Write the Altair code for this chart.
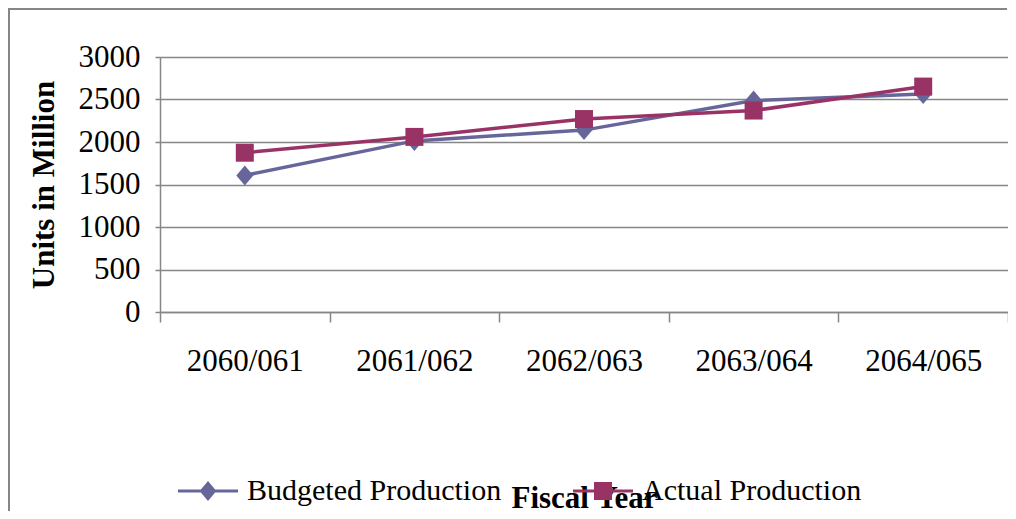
import altair as alt
import pandas as pd

categories = ["2060/061", "2061/062", "2062/063", "2063/064", "2064/065"]
budgeted = [1607, 2013, 2140, 2487, 2566]
actual = [1874, 2060, 2270, 2370, 2652]
series_names = ["Budgeted Production", "Actual Production"]
series_colors = ["#66669A", "#993366"]
y_ticks = [0, 500, 1000, 1500, 2000, 2500, 3000]

rows = []
for name, vals in zip(series_names, [budgeted, actual]):
    for c, v in zip(categories, vals):
        rows.append({"year": c, "value": v, "series": name})
df = pd.DataFrame(rows)

FONT = "Liberation Serif"
GRAY = "#868686"

diamond_path = "M0,-1L0.85,0L0,1L-0.85,0Z"
square_path = "M-1,-1H1V1H-1Z"
leg_diamond = "M-1,-0.05H1V0.05H-1Z M0,-0.33L0.28,0L0,0.33L-0.28,0Z"
leg_square = "M-1,-0.05H1V0.05H-1Z M-0.3,-0.3H0.3V0.3H-0.3Z"
marker_paths = [diamond_path, square_path]
marker_sizes = [400, 324]

x_enc = alt.X(
    "year:N",
    sort=categories,
    bandPosition=0.5,
    scale=alt.Scale(type="band", domain=categories, paddingInner=0, paddingOuter=0),
    axis=alt.Axis(
        title="Fiscal Year",
        titleFont=FONT, titleFontSize=31, titleFontWeight="bold", titleColor="black",
        titleX=424, titleY=195, titleBaseline="alphabetic",
        labelFont=FONT, labelFontSize=31, labelColor="black", labelAngle=0,
        labelPadding=24, labelLimit=300,
        tickBand="extent", tickSize=10, tickColor=GRAY, tickWidth=1.5,
        domainColor=GRAY, domainWidth=1.5, grid=False,
    ),
)
y_enc = alt.Y(
    "value:Q",
    scale=alt.Scale(domain=[0, 3000], nice=False, zero=True),
    axis=alt.Axis(
        title="Units in Million",
        titleFont=FONT, titleFontSize=31, titleFontWeight="bold", titleColor="black",
        titleX=-107, titleY=127.5, titleAngle=-90, titleBaseline="alphabetic",
        values=y_ticks, format="d", labelFont=FONT, labelFontSize=31, labelColor="black",
        labelPadding=15, tickSize=5, tickColor=GRAY, tickWidth=1.5,
        domainColor=GRAY, domainWidth=1.5,
        grid=True, gridColor=GRAY, gridWidth=1.5,
    ),
)

layers = []
for name, color, path, sz in zip(series_names, series_colors, marker_paths, marker_sizes):
    base = alt.Chart(df).transform_filter(alt.datum.series == name)
    layers.append(base.mark_line(color=color, strokeWidth=3.5).encode(x=x_enc, y=y_enc))
    layers.append(
        base.mark_point(shape=path, filled=True, color=color, size=sz, opacity=1)
        .encode(x=x_enc, y=y_enc)
    )

legend = alt.Legend(
    title=None, orient="none", direction="horizontal",
    legendX=18, legendY=404,
    labelFont=FONT, labelFontSize=30, labelColor="black", labelLimit=500,
    labelOffset=9, columnPadding=71, symbolSize=3600, symbolStrokeWidth=0,
    padding=0,
)
legend_layer = alt.Chart(df).mark_point(filled=True, size=0, opacity=1).encode(
    x=x_enc, y=y_enc,
    color=alt.Color("series:N", scale=alt.Scale(domain=series_names, range=series_colors), legend=legend),
    shape=alt.Shape("series:N", scale=alt.Scale(domain=series_names, range=[leg_diamond, leg_square]), legend=legend),
)

frame_df = pd.DataFrame({"k": [0]})
border_left = alt.Chart(frame_df).mark_rule(stroke=GRAY, strokeWidth=2).encode(
    x=alt.value(-151), y=alt.value(-48), y2=alt.value(454)
)
border_top = alt.Chart(frame_df).mark_rule(stroke=GRAY, strokeWidth=2).encode(
    x=alt.value(-152), x2=alt.value(847), y=alt.value(-48)
)

chart = alt.layer(border_left, border_top, *layers, legend_layer).properties(
    width=848, height=255,
    autosize=alt.AutoSizeParams(type="none"),
    padding={"left": 152, "top": 49, "right": 0, "bottom": 199},
).configure_view(stroke=None).configure(background="white")

chart.save("out.html", embed_options={"renderer": "svg", "actions": False})
